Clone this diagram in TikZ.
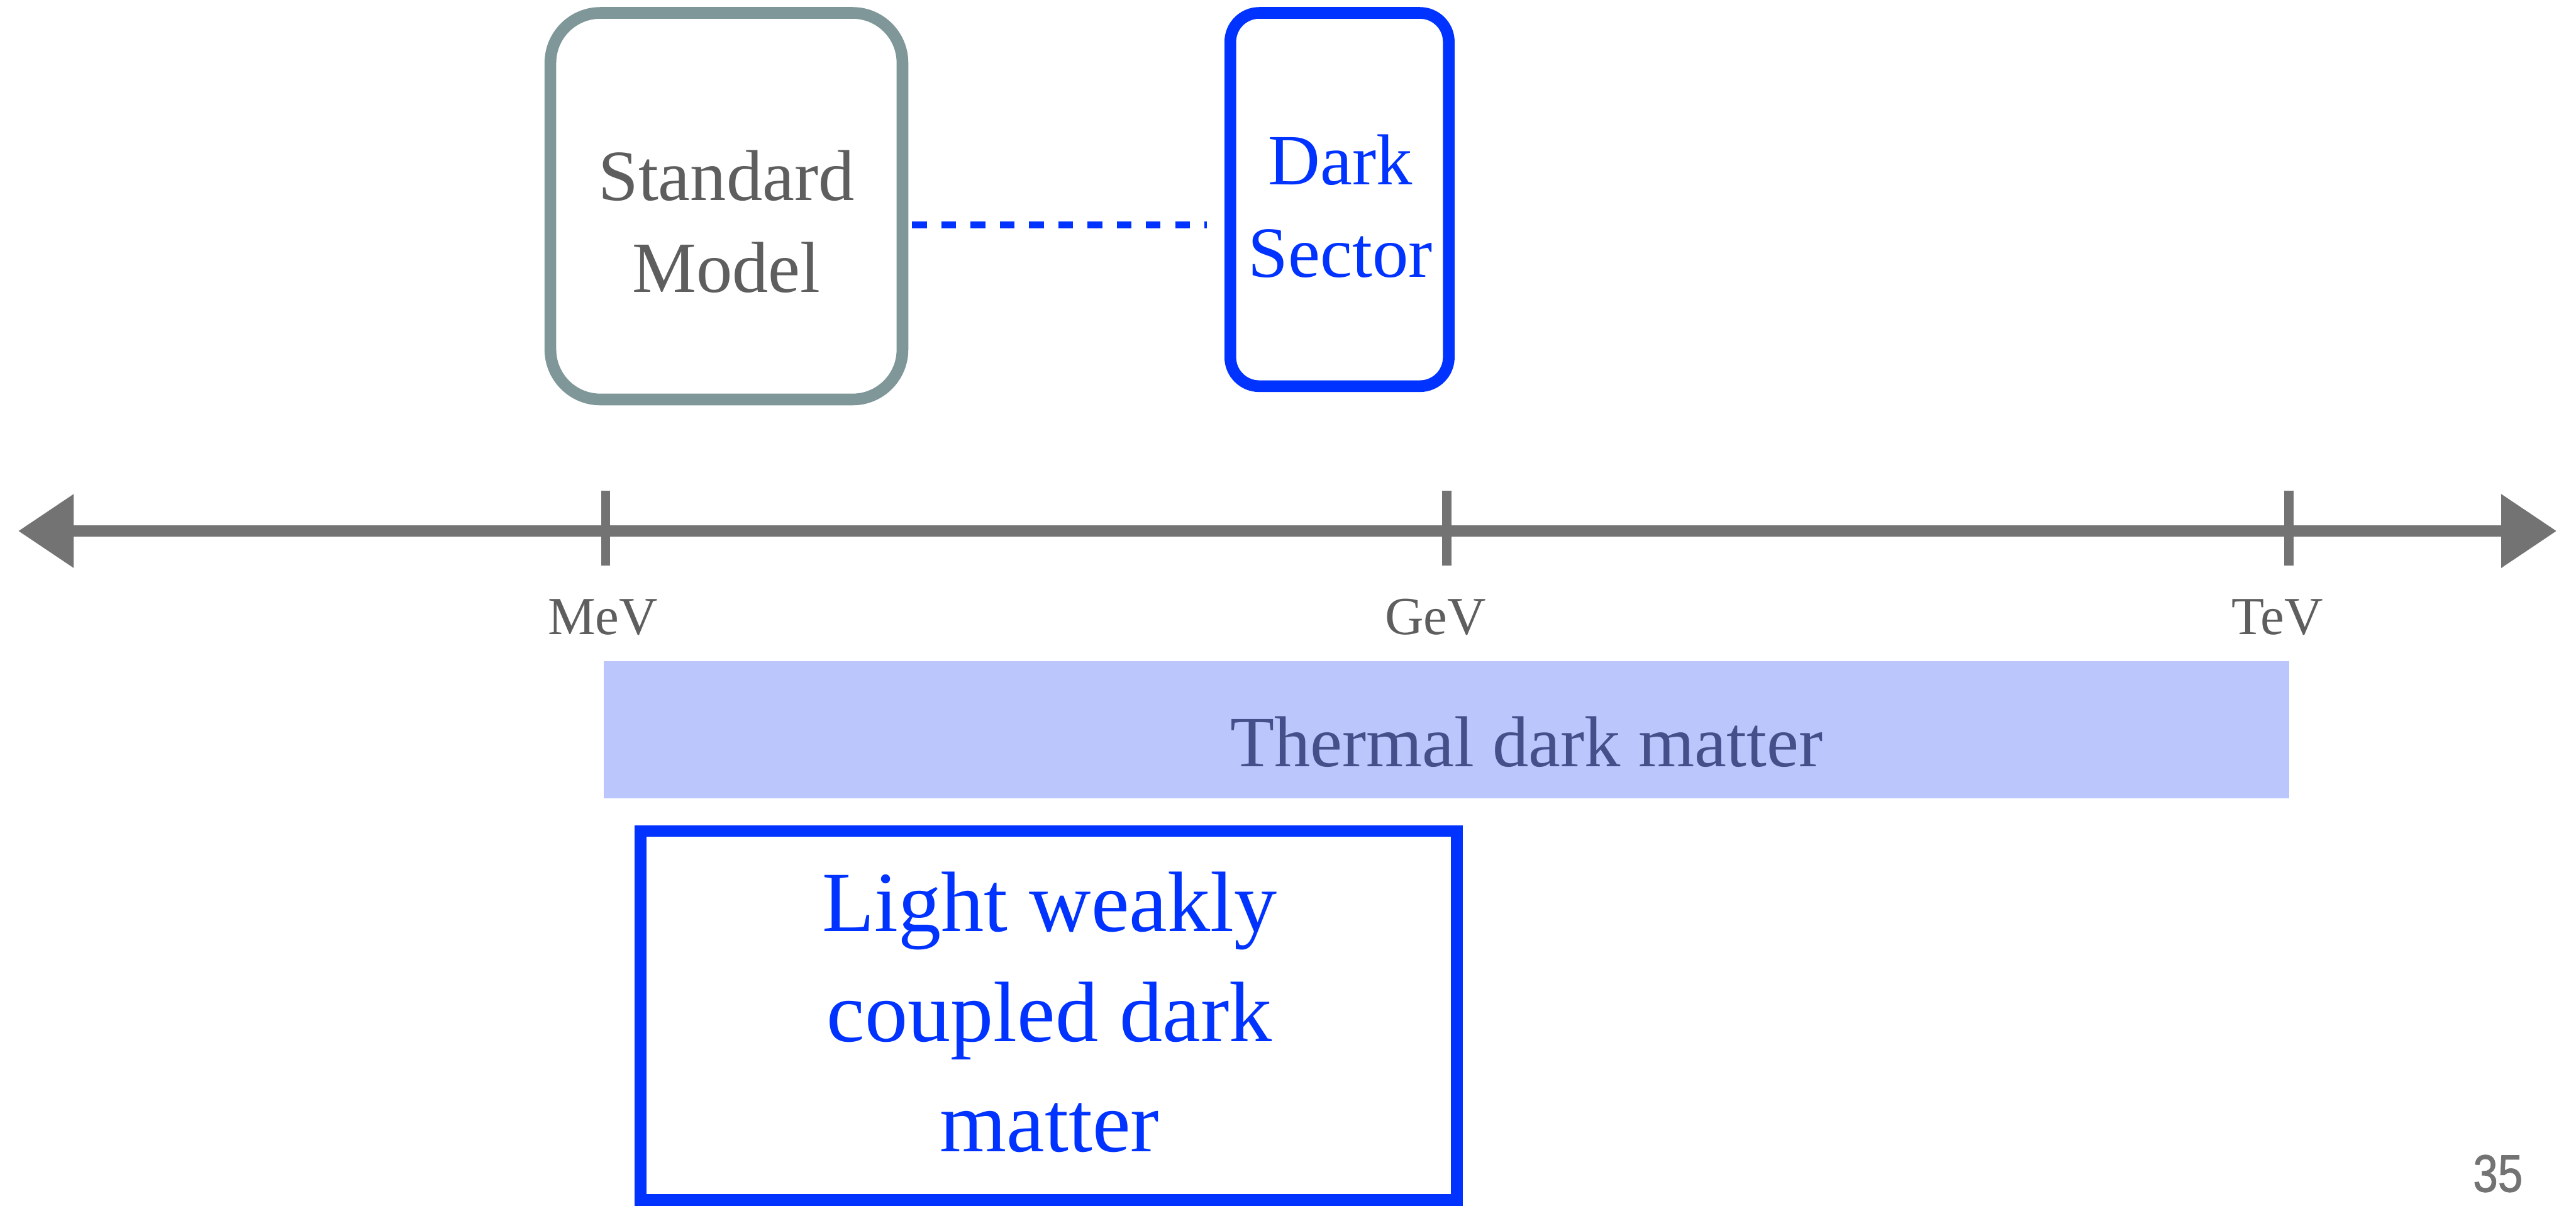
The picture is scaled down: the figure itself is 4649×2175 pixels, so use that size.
\documentclass[tikz,border=0pt]{standalone}
\usepackage{fontspec}
\setmainfont{Liberation Serif}
\newfontfamily\pagenumfont[FakeBold=1.2]{Liberation Sans}
\usetikzlibrary{arrows.meta,calc}
\definecolor{smframe}{HTML}{7F9799}
\definecolor{smtext}{HTML}{5E5E5E}
\definecolor{dsblue}{HTML}{0033FF}
\definecolor{axisgray}{HTML}{737373}
\definecolor{bandfill}{HTML}{BAC6FC}
\definecolor{bandtext}{HTML}{45508A}

\begin{document}
\begin{tikzpicture}[x=0.01cm,y=-0.01cm,
  smbox/.style={draw=smframe, line width=6pt, rounded corners=0.9cm,
    minimum width=6.35cm, minimum height=6.97cm, inner sep=0pt},
  dsbox/.style={draw=dsblue, line width=6pt, rounded corners=0.52cm,
    minimum width=3.94cm, minimum height=6.73cm, inner sep=0pt},
  lwbox/.style={draw=dsblue, line width=6pt,
    minimum width=14.72cm, minimum height=6.65cm, inner sep=0pt},
  band/.style={fill=bandfill, inner sep=0pt, minimum width=30.39cm, minimum height=2.47cm},
  boxtext/.style={inner sep=0pt, align=center, font=\fontsize{37pt}{47.2pt}\selectfont},
  bigtext/.style={inner sep=0pt, align=center, text=dsblue, font=\fontsize{44pt}{56.6pt}\selectfont},
  scalelabel/.style={inner sep=0pt, anchor=base, text=smtext, font=\fontsize{27.5pt}{33pt}\selectfont},
  axisline/.style={draw=axisgray, line width=5.7pt,
    {Triangle[length=1cm,width=1.28cm]}-{Triangle[length=1cm,width=1.28cm]}},
  tickmark/.style={draw=axisgray, line width=4.8pt},
  link/.style={draw=dsblue, line width=3.4pt, dash pattern=on 7.5pt off 7.5pt}
]
% canvas
\fill[white] (0,0) rectangle (4649,2175);
\useasboundingbox (0,0) rectangle (4649,2175);

% the two sectors
\node[smbox] (sm) at (1311,372) {};
\node[boxtext, text=smtext] (smt) at (1311,400) {Standard\\Model};
\node[dsbox] (ds) at (2417.5,360) {};
\node[boxtext, text=dsblue] (dst) at (2419,372) {Dark\\Sector};

% weak portal between them
\coordinate (portal) at ($(sm.east)+(0,34)$);
\draw[link] ($(portal)+(7,0)$) -- ($(ds.west |- portal)+(-32,0)$);

% mass axis
\coordinate (axL) at (33,958);
\coordinate (axR) at (4614,958);
\draw[axisline] (axL) -- (axR);
\foreach \tx/\nm in {1093/mev,2611/gev,4131/tev}{
  \coordinate (\nm) at (\tx,958);
  \draw[tickmark] (\tx,885) -- (\tx,1020);
}
\node[scalelabel] (mevl) at (1088,1145) {MeV};
\node[scalelabel] (gevl) at (2591,1145) {GeV};
\node[scalelabel] (tevl) at (4110,1145) {TeV};

% thermal window
\node[band] (thermal) at (2610.5,1316.5) {};
\node[inner sep=0pt, anchor=base, text=bandtext, font=\fontsize{37pt}{44pt}\selectfont]
  (thermalt) at (2755,1383) {Thermal dark matter};

% light weakly coupled window
\node[lwbox] (lw) at (1892.5,1832) {};
\node[bigtext] (lwt) at (1894,1826) {Light weakly\\coupled dark\\matter};

% page number
\node[inner sep=0pt, anchor=base, text=axisgray, font=\pagenumfont\fontsize{27pt}{32pt}\selectfont]
  (pagenum) at (4508,2150) {\scalebox{0.85}[1]{35}};
\end{tikzpicture}
\end{document}
